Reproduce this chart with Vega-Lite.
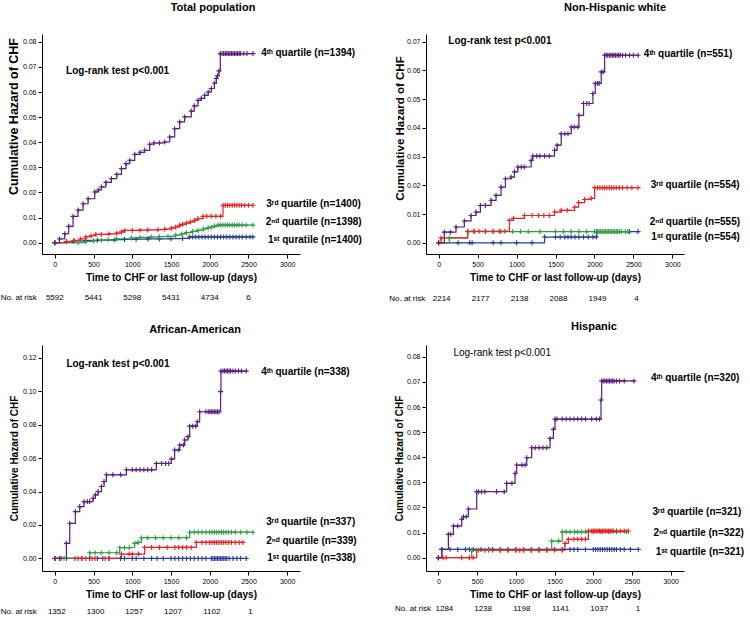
{
"$schema": "https://vega.github.io/schema/vega-lite/v6.json",
"padding": {"left": 0, "top": 2, "right": 5, "bottom": 0},
"bounds": "flush",
"columns": 2,
"spacing": {"row": 91, "column": 126},
"config": {
  "font": "Liberation Sans",
  "view": {"stroke": null},
  "axis": {"grid": false, "domainColor": "#000", "tickColor": "#000", "labelColor": "#000", "titleColor": "#000", "labelFontSize": 7, "titleFontSize": 10, "titleFontWeight": "bold", "tickSize": 4, "labelPadding": 2, "titlePadding": 5},
  "title": {"fontSize": 11, "fontWeight": "bold", "color": "#000", "anchor": "middle", "frame": "group"},
  "text": {"color": "#000"}
},
"datasets": {
"curves": [
{"p":"A","s":"q1","t":0,"h":0},{"p":"A","s":"q1","t":240,"h":0.0007},{"p":"A","s":"q1","t":400,"h":0.0009},{"p":"A","s":"q1","t":550,"h":0.001},{"p":"A","s":"q1","t":774,"h":0.0012},{"p":"A","s":"q1","t":900,"h":0.0013},{"p":"A","s":"q1","t":1050,"h":0.0014},{"p":"A","s":"q1","t":1203,"h":0.0015},{"p":"A","s":"q1","t":1350,"h":0.0015},{"p":"A","s":"q1","t":1500,"h":0.0016},{"p":"A","s":"q1","t":1650,"h":0.0017},{"p":"A","s":"q1","t":1741,"h":0.0023},{"p":"A","s":"q1","t":1780,"h":0.0023},{"p":"A","s":"q1","t":1820,"h":0.0023},{"p":"A","s":"q1","t":1860,"h":0.0023},{"p":"A","s":"q1","t":1900,"h":0.0023},{"p":"A","s":"q1","t":1940,"h":0.0023},{"p":"A","s":"q1","t":1980,"h":0.0023},{"p":"A","s":"q1","t":2020,"h":0.0023},{"p":"A","s":"q1","t":2060,"h":0.0023},{"p":"A","s":"q1","t":2100,"h":0.0023},{"p":"A","s":"q1","t":2140,"h":0.0023},{"p":"A","s":"q1","t":2180,"h":0.0023},{"p":"A","s":"q1","t":2220,"h":0.0023},{"p":"A","s":"q1","t":2260,"h":0.0023},{"p":"A","s":"q1","t":2300,"h":0.0023},{"p":"A","s":"q1","t":2340,"h":0.0023},{"p":"A","s":"q1","t":2380,"h":0.0023},{"p":"A","s":"q1","t":2420,"h":0.0023},{"p":"A","s":"q1","t":2470,"h":0.0023},{"p":"A","s":"q1","t":2520,"h":0.0023},{"p":"A","s":"q1","t":2557,"h":0.0023},
{"p":"A","s":"q2","t":0,"h":0},{"p":"A","s":"q2","t":300,"h":0},{"p":"A","s":"q2","t":400,"h":0.0005},{"p":"A","s":"q2","t":500,"h":0.0008},{"p":"A","s":"q2","t":600,"h":0.001},{"p":"A","s":"q2","t":688,"h":0.0012},{"p":"A","s":"q2","t":800,"h":0.0015},{"p":"A","s":"q2","t":989,"h":0.0019},{"p":"A","s":"q2","t":1100,"h":0.0021},{"p":"A","s":"q2","t":1246,"h":0.0023},{"p":"A","s":"q2","t":1350,"h":0.0024},{"p":"A","s":"q2","t":1461,"h":0.0025},{"p":"A","s":"q2","t":1560,"h":0.003},{"p":"A","s":"q2","t":1640,"h":0.0035},{"p":"A","s":"q2","t":1700,"h":0.004},{"p":"A","s":"q2","t":1780,"h":0.0045},{"p":"A","s":"q2","t":1848,"h":0.0049},{"p":"A","s":"q2","t":1920,"h":0.0055},{"p":"A","s":"q2","t":1980,"h":0.006},{"p":"A","s":"q2","t":2020,"h":0.0062},{"p":"A","s":"q2","t":2060,"h":0.0066},{"p":"A","s":"q2","t":2106,"h":0.007},{"p":"A","s":"q2","t":2140,"h":0.007},{"p":"A","s":"q2","t":2170,"h":0.007},{"p":"A","s":"q2","t":2200,"h":0.007},{"p":"A","s":"q2","t":2230,"h":0.007},{"p":"A","s":"q2","t":2260,"h":0.007},{"p":"A","s":"q2","t":2290,"h":0.007},{"p":"A","s":"q2","t":2320,"h":0.007},{"p":"A","s":"q2","t":2350,"h":0.007},{"p":"A","s":"q2","t":2380,"h":0.007},{"p":"A","s":"q2","t":2420,"h":0.007},{"p":"A","s":"q2","t":2470,"h":0.007},{"p":"A","s":"q2","t":2557,"h":0.007},
{"p":"A","s":"q3","t":0,"h":0},{"p":"A","s":"q3","t":150,"h":0.0005},{"p":"A","s":"q3","t":250,"h":0.0009},{"p":"A","s":"q3","t":330,"h":0.0015},{"p":"A","s":"q3","t":400,"h":0.0023},{"p":"A","s":"q3","t":470,"h":0.0028},{"p":"A","s":"q3","t":530,"h":0.0033},{"p":"A","s":"q3","t":600,"h":0.0033},{"p":"A","s":"q3","t":700,"h":0.0035},{"p":"A","s":"q3","t":800,"h":0.0038},{"p":"A","s":"q3","t":860,"h":0.0043},{"p":"A","s":"q3","t":903,"h":0.0049},{"p":"A","s":"q3","t":1000,"h":0.0049},{"p":"A","s":"q3","t":1100,"h":0.005},{"p":"A","s":"q3","t":1200,"h":0.0051},{"p":"A","s":"q3","t":1332,"h":0.0052},{"p":"A","s":"q3","t":1420,"h":0.0054},{"p":"A","s":"q3","t":1504,"h":0.0058},{"p":"A","s":"q3","t":1560,"h":0.0063},{"p":"A","s":"q3","t":1612,"h":0.0069},{"p":"A","s":"q3","t":1650,"h":0.0073},{"p":"A","s":"q3","t":1698,"h":0.0078},{"p":"A","s":"q3","t":1750,"h":0.0083},{"p":"A","s":"q3","t":1805,"h":0.0089},{"p":"A","s":"q3","t":1848,"h":0.0096},{"p":"A","s":"q3","t":1913,"h":0.0105},{"p":"A","s":"q3","t":1960,"h":0.0105},{"p":"A","s":"q3","t":2020,"h":0.0105},{"p":"A","s":"q3","t":2080,"h":0.0105},{"p":"A","s":"q3","t":2140,"h":0.0105},{"p":"A","s":"q3","t":2171,"h":0.0149},{"p":"A","s":"q3","t":2200,"h":0.0149},{"p":"A","s":"q3","t":2230,"h":0.0149},{"p":"A","s":"q3","t":2260,"h":0.0149},{"p":"A","s":"q3","t":2290,"h":0.0149},{"p":"A","s":"q3","t":2320,"h":0.0149},{"p":"A","s":"q3","t":2350,"h":0.0149},{"p":"A","s":"q3","t":2380,"h":0.0149},{"p":"A","s":"q3","t":2410,"h":0.0149},{"p":"A","s":"q3","t":2450,"h":0.0149},{"p":"A","s":"q3","t":2500,"h":0.0149},{"p":"A","s":"q3","t":2557,"h":0.0149},
{"p":"A","s":"q4","t":0,"h":0},{"p":"A","s":"q4","t":60,"h":0.0015},{"p":"A","s":"q4","t":129,"h":0.0036},{"p":"A","s":"q4","t":180,"h":0.0065},{"p":"A","s":"q4","t":236,"h":0.0105},{"p":"A","s":"q4","t":300,"h":0.013},{"p":"A","s":"q4","t":365,"h":0.0155},{"p":"A","s":"q4","t":430,"h":0.0175},{"p":"A","s":"q4","t":516,"h":0.0202},{"p":"A","s":"q4","t":560,"h":0.021},{"p":"A","s":"q4","t":602,"h":0.0222},{"p":"A","s":"q4","t":660,"h":0.024},{"p":"A","s":"q4","t":731,"h":0.0255},{"p":"A","s":"q4","t":800,"h":0.0272},{"p":"A","s":"q4","t":860,"h":0.0295},{"p":"A","s":"q4","t":920,"h":0.0315},{"p":"A","s":"q4","t":967,"h":0.0328},{"p":"A","s":"q4","t":1032,"h":0.0352},{"p":"A","s":"q4","t":1100,"h":0.036},{"p":"A","s":"q4","t":1160,"h":0.0368},{"p":"A","s":"q4","t":1225,"h":0.0392},{"p":"A","s":"q4","t":1280,"h":0.0397},{"p":"A","s":"q4","t":1350,"h":0.0397},{"p":"A","s":"q4","t":1418,"h":0.0401},{"p":"A","s":"q4","t":1483,"h":0.0421},{"p":"A","s":"q4","t":1547,"h":0.0454},{"p":"A","s":"q4","t":1612,"h":0.0481},{"p":"A","s":"q4","t":1676,"h":0.0501},{"p":"A","s":"q4","t":1762,"h":0.0524},{"p":"A","s":"q4","t":1800,"h":0.0545},{"p":"A","s":"q4","t":1848,"h":0.0567},{"p":"A","s":"q4","t":1890,"h":0.0575},{"p":"A","s":"q4","t":1934,"h":0.0587},{"p":"A","s":"q4","t":1980,"h":0.06},{"p":"A","s":"q4","t":2020,"h":0.0614},{"p":"A","s":"q4","t":2060,"h":0.0635},{"p":"A","s":"q4","t":2085,"h":0.0654},{"p":"A","s":"q4","t":2100,"h":0.0665},{"p":"A","s":"q4","t":2119,"h":0.0684},{"p":"A","s":"q4","t":2136,"h":0.0753},{"p":"A","s":"q4","t":2160,"h":0.0753},{"p":"A","s":"q4","t":2180,"h":0.0753},{"p":"A","s":"q4","t":2200,"h":0.0753},{"p":"A","s":"q4","t":2220,"h":0.0753},{"p":"A","s":"q4","t":2240,"h":0.0753},{"p":"A","s":"q4","t":2260,"h":0.0753},{"p":"A","s":"q4","t":2280,"h":0.0753},{"p":"A","s":"q4","t":2300,"h":0.0753},{"p":"A","s":"q4","t":2320,"h":0.0753},{"p":"A","s":"q4","t":2340,"h":0.0753},{"p":"A","s":"q4","t":2360,"h":0.0753},{"p":"A","s":"q4","t":2380,"h":0.0753},{"p":"A","s":"q4","t":2400,"h":0.0753},{"p":"A","s":"q4","t":2440,"h":0.0753},{"p":"A","s":"q4","t":2480,"h":0.0753},{"p":"A","s":"q4","t":2557,"h":0.0753},

{"p":"B","s":"q1","t":0,"h":0},{"p":"B","s":"q1","t":250,"h":0},{"p":"B","s":"q1","t":400,"h":0},{"p":"B","s":"q1","t":430,"h":0},{"p":"B","s":"q1","t":700,"h":0},{"p":"B","s":"q1","t":800,"h":0},{"p":"B","s":"q1","t":1000,"h":0},{"p":"B","s":"q1","t":1200,"h":0},{"p":"B","s":"q1","t":1359,"h":0.002},{"p":"B","s":"q1","t":1500,"h":0.002},{"p":"B","s":"q1","t":1560,"h":0.002},{"p":"B","s":"q1","t":1620,"h":0.002},{"p":"B","s":"q1","t":1660,"h":0.002},{"p":"B","s":"q1","t":1700,"h":0.002},{"p":"B","s":"q1","t":1750,"h":0.002},{"p":"B","s":"q1","t":1800,"h":0.002},{"p":"B","s":"q1","t":1860,"h":0.002},{"p":"B","s":"q1","t":1920,"h":0.002},{"p":"B","s":"q1","t":1980,"h":0.002},{"p":"B","s":"q1","t":2023,"h":0.002},{"p":"B","s":"q1","t":2030,"h":0.0039},{"p":"B","s":"q1","t":2450,"h":0.0039},{"p":"B","s":"q1","t":2559,"h":0.0039},
{"p":"B","s":"q2","t":0,"h":0},{"p":"B","s":"q2","t":137,"h":0.0017},{"p":"B","s":"q2","t":373,"h":0.0039},{"p":"B","s":"q2","t":460,"h":0.0039},{"p":"B","s":"q2","t":600,"h":0.0039},{"p":"B","s":"q2","t":700,"h":0.0039},{"p":"B","s":"q2","t":800,"h":0.0039},{"p":"B","s":"q2","t":950,"h":0.0039},{"p":"B","s":"q2","t":1050,"h":0.0039},{"p":"B","s":"q2","t":1150,"h":0.0039},{"p":"B","s":"q2","t":1300,"h":0.0039},{"p":"B","s":"q2","t":1500,"h":0.0039},{"p":"B","s":"q2","t":1600,"h":0.0039},{"p":"B","s":"q2","t":1700,"h":0.0039},{"p":"B","s":"q2","t":1800,"h":0.0039},{"p":"B","s":"q2","t":1900,"h":0.0039},{"p":"B","s":"q2","t":2000,"h":0.0039},{"p":"B","s":"q2","t":2040,"h":0.0039},{"p":"B","s":"q2","t":2060,"h":0.0039},{"p":"B","s":"q2","t":2080,"h":0.0039},{"p":"B","s":"q2","t":2100,"h":0.0039},{"p":"B","s":"q2","t":2120,"h":0.0039},{"p":"B","s":"q2","t":2140,"h":0.0039},{"p":"B","s":"q2","t":2160,"h":0.0039},{"p":"B","s":"q2","t":2180,"h":0.0039},{"p":"B","s":"q2","t":2200,"h":0.0039},{"p":"B","s":"q2","t":2220,"h":0.0039},{"p":"B","s":"q2","t":2240,"h":0.0039},{"p":"B","s":"q2","t":2260,"h":0.0039},{"p":"B","s":"q2","t":2280,"h":0.0039},{"p":"B","s":"q2","t":2300,"h":0.0039},{"p":"B","s":"q2","t":2320,"h":0.0039},{"p":"B","s":"q2","t":2350,"h":0.0039},{"p":"B","s":"q2","t":2400,"h":0.0039},{"p":"B","s":"q2","t":2430,"h":0.0039},
{"p":"B","s":"q3","t":0,"h":0},{"p":"B","s":"q3","t":30,"h":0.0017},{"p":"B","s":"q3","t":373,"h":0.004},{"p":"B","s":"q3","t":450,"h":0.004},{"p":"B","s":"q3","t":520,"h":0.004},{"p":"B","s":"q3","t":600,"h":0.004},{"p":"B","s":"q3","t":700,"h":0.004},{"p":"B","s":"q3","t":780,"h":0.004},{"p":"B","s":"q3","t":850,"h":0.004},{"p":"B","s":"q3","t":909,"h":0.0078},{"p":"B","s":"q3","t":960,"h":0.0085},{"p":"B","s":"q3","t":1101,"h":0.0095},{"p":"B","s":"q3","t":1200,"h":0.0095},{"p":"B","s":"q3","t":1280,"h":0.0095},{"p":"B","s":"q3","t":1350,"h":0.0095},{"p":"B","s":"q3","t":1420,"h":0.0095},{"p":"B","s":"q3","t":1487,"h":0.0107},{"p":"B","s":"q3","t":1573,"h":0.0113},{"p":"B","s":"q3","t":1650,"h":0.0113},{"p":"B","s":"q3","t":1744,"h":0.0124},{"p":"B","s":"q3","t":1796,"h":0.014},{"p":"B","s":"q3","t":1873,"h":0.0151},{"p":"B","s":"q3","t":1959,"h":0.0155},{"p":"B","s":"q3","t":2002,"h":0.0192},{"p":"B","s":"q3","t":2040,"h":0.0192},{"p":"B","s":"q3","t":2070,"h":0.0192},{"p":"B","s":"q3","t":2100,"h":0.0192},{"p":"B","s":"q3","t":2130,"h":0.0192},{"p":"B","s":"q3","t":2160,"h":0.0192},{"p":"B","s":"q3","t":2190,"h":0.0192},{"p":"B","s":"q3","t":2220,"h":0.0192},{"p":"B","s":"q3","t":2250,"h":0.0192},{"p":"B","s":"q3","t":2280,"h":0.0192},{"p":"B","s":"q3","t":2320,"h":0.0192},{"p":"B","s":"q3","t":2360,"h":0.0192},{"p":"B","s":"q3","t":2420,"h":0.0192},{"p":"B","s":"q3","t":2480,"h":0.0192},{"p":"B","s":"q3","t":2559,"h":0.0192},
{"p":"B","s":"q4","t":0,"h":0},{"p":"B","s":"q4","t":73,"h":0.0037},{"p":"B","s":"q4","t":150,"h":0.0037},{"p":"B","s":"q4","t":223,"h":0.0055},{"p":"B","s":"q4","t":330,"h":0.0076},{"p":"B","s":"q4","t":416,"h":0.0095},{"p":"B","s":"q4","t":480,"h":0.0107},{"p":"B","s":"q4","t":536,"h":0.013},{"p":"B","s":"q4","t":600,"h":0.013},{"p":"B","s":"q4","t":673,"h":0.0148},{"p":"B","s":"q4","t":737,"h":0.0165},{"p":"B","s":"q4","t":801,"h":0.0194},{"p":"B","s":"q4","t":857,"h":0.0223},{"p":"B","s":"q4","t":930,"h":0.0229},{"p":"B","s":"q4","t":973,"h":0.0247},{"p":"B","s":"q4","t":1016,"h":0.0264},{"p":"B","s":"q4","t":1060,"h":0.0264},{"p":"B","s":"q4","t":1100,"h":0.0264},{"p":"B","s":"q4","t":1187,"h":0.0287},{"p":"B","s":"q4","t":1209,"h":0.0302},{"p":"B","s":"q4","t":1260,"h":0.0302},{"p":"B","s":"q4","t":1300,"h":0.0302},{"p":"B","s":"q4","t":1360,"h":0.0302},{"p":"B","s":"q4","t":1420,"h":0.0302},{"p":"B","s":"q4","t":1487,"h":0.0322},{"p":"B","s":"q4","t":1521,"h":0.034},{"p":"B","s":"q4","t":1573,"h":0.038},{"p":"B","s":"q4","t":1620,"h":0.038},{"p":"B","s":"q4","t":1660,"h":0.038},{"p":"B","s":"q4","t":1702,"h":0.0403},{"p":"B","s":"q4","t":1740,"h":0.0403},{"p":"B","s":"q4","t":1787,"h":0.0403},{"p":"B","s":"q4","t":1800,"h":0.0444},{"p":"B","s":"q4","t":1860,"h":0.0485},{"p":"B","s":"q4","t":1900,"h":0.0485},{"p":"B","s":"q4","t":1930,"h":0.0485},{"p":"B","s":"q4","t":1980,"h":0.052},{"p":"B","s":"q4","t":2010,"h":0.0555},{"p":"B","s":"q4","t":2040,"h":0.0555},{"p":"B","s":"q4","t":2060,"h":0.0555},{"p":"B","s":"q4","t":2087,"h":0.0595},{"p":"B","s":"q4","t":2110,"h":0.0595},{"p":"B","s":"q4","t":2130,"h":0.0653},{"p":"B","s":"q4","t":2150,"h":0.0653},{"p":"B","s":"q4","t":2170,"h":0.0653},{"p":"B","s":"q4","t":2190,"h":0.0653},{"p":"B","s":"q4","t":2210,"h":0.0653},{"p":"B","s":"q4","t":2230,"h":0.0653},{"p":"B","s":"q4","t":2250,"h":0.0653},{"p":"B","s":"q4","t":2270,"h":0.0653},{"p":"B","s":"q4","t":2290,"h":0.0653},{"p":"B","s":"q4","t":2310,"h":0.0653},{"p":"B","s":"q4","t":2330,"h":0.0653},{"p":"B","s":"q4","t":2360,"h":0.0653},{"p":"B","s":"q4","t":2400,"h":0.0653},{"p":"B","s":"q4","t":2450,"h":0.0653},{"p":"B","s":"q4","t":2500,"h":0.0653},{"p":"B","s":"q4","t":2559,"h":0.0653},

{"p":"C","s":"q1","t":0,"h":0},{"p":"C","s":"q1","t":150,"h":0},{"p":"C","s":"q1","t":350,"h":0},{"p":"C","s":"q1","t":450,"h":0},{"p":"C","s":"q1","t":550,"h":0},{"p":"C","s":"q1","t":620,"h":0},{"p":"C","s":"q1","t":700,"h":0},{"p":"C","s":"q1","t":850,"h":0},{"p":"C","s":"q1","t":900,"h":0},{"p":"C","s":"q1","t":1000,"h":0},{"p":"C","s":"q1","t":1050,"h":0},{"p":"C","s":"q1","t":1150,"h":0},{"p":"C","s":"q1","t":1250,"h":0},{"p":"C","s":"q1","t":1320,"h":0},{"p":"C","s":"q1","t":1400,"h":0},{"p":"C","s":"q1","t":1500,"h":0},{"p":"C","s":"q1","t":1550,"h":0},{"p":"C","s":"q1","t":1600,"h":0},{"p":"C","s":"q1","t":1650,"h":0},{"p":"C","s":"q1","t":1700,"h":0},{"p":"C","s":"q1","t":1750,"h":0},{"p":"C","s":"q1","t":1800,"h":0},{"p":"C","s":"q1","t":1850,"h":0},{"p":"C","s":"q1","t":1900,"h":0},{"p":"C","s":"q1","t":1950,"h":0},{"p":"C","s":"q1","t":2020,"h":0},{"p":"C","s":"q1","t":2040,"h":0},{"p":"C","s":"q1","t":2060,"h":0},{"p":"C","s":"q1","t":2080,"h":0},{"p":"C","s":"q1","t":2100,"h":0},{"p":"C","s":"q1","t":2120,"h":0},{"p":"C","s":"q1","t":2140,"h":0},{"p":"C","s":"q1","t":2160,"h":0},{"p":"C","s":"q1","t":2180,"h":0},{"p":"C","s":"q1","t":2200,"h":0},{"p":"C","s":"q1","t":2220,"h":0},{"p":"C","s":"q1","t":2250,"h":0},{"p":"C","s":"q1","t":2300,"h":0},{"p":"C","s":"q1","t":2350,"h":0},{"p":"C","s":"q1","t":2400,"h":0},{"p":"C","s":"q1","t":2471,"h":0},
{"p":"C","s":"q3","t":0,"h":0},{"p":"C","s":"q3","t":60,"h":0},{"p":"C","s":"q3","t":260,"h":0},{"p":"C","s":"q3","t":300,"h":0},{"p":"C","s":"q3","t":350,"h":0},{"p":"C","s":"q3","t":400,"h":0},{"p":"C","s":"q3","t":480,"h":0},{"p":"C","s":"q3","t":520,"h":0},{"p":"C","s":"q3","t":650,"h":0},{"p":"C","s":"q3","t":700,"h":0},{"p":"C","s":"q3","t":860,"h":0.0026},{"p":"C","s":"q3","t":960,"h":0.0026},{"p":"C","s":"q3","t":1000,"h":0.0026},{"p":"C","s":"q3","t":1080,"h":0.0026},{"p":"C","s":"q3","t":1160,"h":0.0066},{"p":"C","s":"q3","t":1250,"h":0.0066},{"p":"C","s":"q3","t":1350,"h":0.0066},{"p":"C","s":"q3","t":1450,"h":0.0066},{"p":"C","s":"q3","t":1550,"h":0.0066},{"p":"C","s":"q3","t":1600,"h":0.0066},{"p":"C","s":"q3","t":1650,"h":0.0066},{"p":"C","s":"q3","t":1700,"h":0.0066},{"p":"C","s":"q3","t":1760,"h":0.0066},{"p":"C","s":"q3","t":1827,"h":0.0096},{"p":"C","s":"q3","t":1900,"h":0.0096},{"p":"C","s":"q3","t":1950,"h":0.0096},{"p":"C","s":"q3","t":2000,"h":0.0096},{"p":"C","s":"q3","t":2030,"h":0.0096},{"p":"C","s":"q3","t":2060,"h":0.0096},{"p":"C","s":"q3","t":2090,"h":0.0096},{"p":"C","s":"q3","t":2120,"h":0.0096},{"p":"C","s":"q3","t":2150,"h":0.0096},{"p":"C","s":"q3","t":2180,"h":0.0096},{"p":"C","s":"q3","t":2210,"h":0.0096},{"p":"C","s":"q3","t":2240,"h":0.0096},{"p":"C","s":"q3","t":2280,"h":0.0096},{"p":"C","s":"q3","t":2330,"h":0.0096},{"p":"C","s":"q3","t":2380,"h":0.0096},{"p":"C","s":"q3","t":2428,"h":0.0096},
{"p":"C","s":"q2","t":0,"h":0},{"p":"C","s":"q2","t":120,"h":0},{"p":"C","s":"q2","t":451,"h":0.0034},{"p":"C","s":"q2","t":520,"h":0.0034},{"p":"C","s":"q2","t":600,"h":0.0034},{"p":"C","s":"q2","t":700,"h":0.0034},{"p":"C","s":"q2","t":800,"h":0.0034},{"p":"C","s":"q2","t":838,"h":0.0064},{"p":"C","s":"q2","t":900,"h":0.0064},{"p":"C","s":"q2","t":960,"h":0.0064},{"p":"C","s":"q2","t":1031,"h":0.009},{"p":"C","s":"q2","t":1075,"h":0.0096},{"p":"C","s":"q2","t":1117,"h":0.0124},{"p":"C","s":"q2","t":1200,"h":0.0124},{"p":"C","s":"q2","t":1300,"h":0.0124},{"p":"C","s":"q2","t":1400,"h":0.0124},{"p":"C","s":"q2","t":1500,"h":0.0124},{"p":"C","s":"q2","t":1600,"h":0.0124},{"p":"C","s":"q2","t":1700,"h":0.0124},{"p":"C","s":"q2","t":1741,"h":0.0157},{"p":"C","s":"q2","t":1800,"h":0.0157},{"p":"C","s":"q2","t":1850,"h":0.0157},{"p":"C","s":"q2","t":1900,"h":0.0157},{"p":"C","s":"q2","t":1950,"h":0.0157},{"p":"C","s":"q2","t":2000,"h":0.0157},{"p":"C","s":"q2","t":2030,"h":0.0157},{"p":"C","s":"q2","t":2060,"h":0.0157},{"p":"C","s":"q2","t":2090,"h":0.0157},{"p":"C","s":"q2","t":2120,"h":0.0157},{"p":"C","s":"q2","t":2150,"h":0.0157},{"p":"C","s":"q2","t":2180,"h":0.0157},{"p":"C","s":"q2","t":2210,"h":0.0157},{"p":"C","s":"q2","t":2240,"h":0.0157},{"p":"C","s":"q2","t":2280,"h":0.0157},{"p":"C","s":"q2","t":2330,"h":0.0157},{"p":"C","s":"q2","t":2400,"h":0.0157},{"p":"C","s":"q2","t":2480,"h":0.0157},{"p":"C","s":"q2","t":2557,"h":0.0157},
{"p":"C","s":"q4","t":0,"h":0},{"p":"C","s":"q4","t":80,"h":0},{"p":"C","s":"q4","t":150,"h":0.009},{"p":"C","s":"q4","t":193,"h":0.021},{"p":"C","s":"q4","t":266,"h":0.028},{"p":"C","s":"q4","t":322,"h":0.031},{"p":"C","s":"q4","t":378,"h":0.034},{"p":"C","s":"q4","t":420,"h":0.034},{"p":"C","s":"q4","t":450,"h":0.034},{"p":"C","s":"q4","t":494,"h":0.036},{"p":"C","s":"q4","t":524,"h":0.038},{"p":"C","s":"q4","t":559,"h":0.04},{"p":"C","s":"q4","t":602,"h":0.043},{"p":"C","s":"q4","t":636,"h":0.046},{"p":"C","s":"q4","t":666,"h":0.05},{"p":"C","s":"q4","t":750,"h":0.05},{"p":"C","s":"q4","t":850,"h":0.05},{"p":"C","s":"q4","t":924,"h":0.053},{"p":"C","s":"q4","t":1000,"h":0.053},{"p":"C","s":"q4","t":1050,"h":0.053},{"p":"C","s":"q4","t":1100,"h":0.053},{"p":"C","s":"q4","t":1150,"h":0.053},{"p":"C","s":"q4","t":1200,"h":0.053},{"p":"C","s":"q4","t":1250,"h":0.053},{"p":"C","s":"q4","t":1311,"h":0.0568},{"p":"C","s":"q4","t":1380,"h":0.0568},{"p":"C","s":"q4","t":1430,"h":0.0568},{"p":"C","s":"q4","t":1470,"h":0.0568},{"p":"C","s":"q4","t":1504,"h":0.0594},{"p":"C","s":"q4","t":1547,"h":0.0648},{"p":"C","s":"q4","t":1600,"h":0.0648},{"p":"C","s":"q4","t":1612,"h":0.0678},{"p":"C","s":"q4","t":1660,"h":0.0678},{"p":"C","s":"q4","t":1676,"h":0.0708},{"p":"C","s":"q4","t":1719,"h":0.0728},{"p":"C","s":"q4","t":1741,"h":0.0791},{"p":"C","s":"q4","t":1780,"h":0.0791},{"p":"C","s":"q4","t":1820,"h":0.0791},{"p":"C","s":"q4","t":1840,"h":0.0817},{"p":"C","s":"q4","t":1870,"h":0.0877},{"p":"C","s":"q4","t":1950,"h":0.0877},{"p":"C","s":"q4","t":1980,"h":0.0877},{"p":"C","s":"q4","t":2000,"h":0.0877},{"p":"C","s":"q4","t":2020,"h":0.0877},{"p":"C","s":"q4","t":2040,"h":0.0877},{"p":"C","s":"q4","t":2060,"h":0.0877},{"p":"C","s":"q4","t":2080,"h":0.0877},{"p":"C","s":"q4","t":2100,"h":0.0877},{"p":"C","s":"q4","t":2120,"h":0.0877},{"p":"C","s":"q4","t":2140,"h":0.0997},{"p":"C","s":"q4","t":2145,"h":0.112},{"p":"C","s":"q4","t":2170,"h":0.112},{"p":"C","s":"q4","t":2190,"h":0.112},{"p":"C","s":"q4","t":2210,"h":0.112},{"p":"C","s":"q4","t":2230,"h":0.112},{"p":"C","s":"q4","t":2250,"h":0.112},{"p":"C","s":"q4","t":2270,"h":0.112},{"p":"C","s":"q4","t":2300,"h":0.112},{"p":"C","s":"q4","t":2330,"h":0.112},{"p":"C","s":"q4","t":2370,"h":0.112},{"p":"C","s":"q4","t":2410,"h":0.112},{"p":"C","s":"q4","t":2471,"h":0.112},

{"p":"D","s":"q1","t":0,"h":0},{"p":"D","s":"q1","t":43,"h":0.0033},{"p":"D","s":"q1","t":150,"h":0.0033},{"p":"D","s":"q1","t":250,"h":0.0033},{"p":"D","s":"q1","t":350,"h":0.0033},{"p":"D","s":"q1","t":400,"h":0.0033},{"p":"D","s":"q1","t":450,"h":0.0033},{"p":"D","s":"q1","t":550,"h":0.0033},{"p":"D","s":"q1","t":650,"h":0.0033},{"p":"D","s":"q1","t":700,"h":0.0033},{"p":"D","s":"q1","t":800,"h":0.0033},{"p":"D","s":"q1","t":900,"h":0.0033},{"p":"D","s":"q1","t":1000,"h":0.0033},{"p":"D","s":"q1","t":1100,"h":0.0033},{"p":"D","s":"q1","t":1200,"h":0.0033},{"p":"D","s":"q1","t":1300,"h":0.0033},{"p":"D","s":"q1","t":1400,"h":0.0033},{"p":"D","s":"q1","t":1500,"h":0.0033},{"p":"D","s":"q1","t":1600,"h":0.0033},{"p":"D","s":"q1","t":1700,"h":0.0033},{"p":"D","s":"q1","t":1750,"h":0.0033},{"p":"D","s":"q1","t":1800,"h":0.0033},{"p":"D","s":"q1","t":1900,"h":0.0033},{"p":"D","s":"q1","t":2000,"h":0.0033},{"p":"D","s":"q1","t":2030,"h":0.0033},{"p":"D","s":"q1","t":2060,"h":0.0033},{"p":"D","s":"q1","t":2090,"h":0.0033},{"p":"D","s":"q1","t":2120,"h":0.0033},{"p":"D","s":"q1","t":2150,"h":0.0033},{"p":"D","s":"q1","t":2180,"h":0.0033},{"p":"D","s":"q1","t":2210,"h":0.0033},{"p":"D","s":"q1","t":2240,"h":0.0033},{"p":"D","s":"q1","t":2270,"h":0.0033},{"p":"D","s":"q1","t":2300,"h":0.0033},{"p":"D","s":"q1","t":2350,"h":0.0033},{"p":"D","s":"q1","t":2400,"h":0.0033},{"p":"D","s":"q1","t":2480,"h":0.0033},{"p":"D","s":"q1","t":2582,"h":0.0033},
{"p":"D","s":"q2","t":0,"h":0},{"p":"D","s":"q2","t":430,"h":0.003},{"p":"D","s":"q2","t":520,"h":0.003},{"p":"D","s":"q2","t":650,"h":0.003},{"p":"D","s":"q2","t":800,"h":0.003},{"p":"D","s":"q2","t":900,"h":0.003},{"p":"D","s":"q2","t":1000,"h":0.003},{"p":"D","s":"q2","t":1100,"h":0.003},{"p":"D","s":"q2","t":1200,"h":0.003},{"p":"D","s":"q2","t":1300,"h":0.003},{"p":"D","s":"q2","t":1400,"h":0.003},{"p":"D","s":"q2","t":1463,"h":0.0066},{"p":"D","s":"q2","t":1550,"h":0.0066},{"p":"D","s":"q2","t":1600,"h":0.0103},{"p":"D","s":"q2","t":1650,"h":0.0103},{"p":"D","s":"q2","t":1700,"h":0.0103},{"p":"D","s":"q2","t":1760,"h":0.0103},{"p":"D","s":"q2","t":1800,"h":0.0103},{"p":"D","s":"q2","t":1850,"h":0.0103},{"p":"D","s":"q2","t":1900,"h":0.0103},{"p":"D","s":"q2","t":2000,"h":0.0103},{"p":"D","s":"q2","t":2100,"h":0.0103},{"p":"D","s":"q2","t":2200,"h":0.0103},{"p":"D","s":"q2","t":2300,"h":0.0103},{"p":"D","s":"q2","t":2430,"h":0.0103},
{"p":"D","s":"q3","t":0,"h":0},{"p":"D","s":"q3","t":60,"h":0},{"p":"D","s":"q3","t":100,"h":0},{"p":"D","s":"q3","t":300,"h":0},{"p":"D","s":"q3","t":400,"h":0},{"p":"D","s":"q3","t":450,"h":0},{"p":"D","s":"q3","t":495,"h":0.003},{"p":"D","s":"q3","t":600,"h":0.003},{"p":"D","s":"q3","t":700,"h":0.003},{"p":"D","s":"q3","t":800,"h":0.003},{"p":"D","s":"q3","t":900,"h":0.003},{"p":"D","s":"q3","t":1000,"h":0.003},{"p":"D","s":"q3","t":1050,"h":0.003},{"p":"D","s":"q3","t":1100,"h":0.003},{"p":"D","s":"q3","t":1200,"h":0.003},{"p":"D","s":"q3","t":1300,"h":0.003},{"p":"D","s":"q3","t":1400,"h":0.003},{"p":"D","s":"q3","t":1500,"h":0.003},{"p":"D","s":"q3","t":1600,"h":0.003},{"p":"D","s":"q3","t":1635,"h":0.0057},{"p":"D","s":"q3","t":1678,"h":0.0073},{"p":"D","s":"q3","t":1750,"h":0.0073},{"p":"D","s":"q3","t":1800,"h":0.0073},{"p":"D","s":"q3","t":1850,"h":0.0073},{"p":"D","s":"q3","t":1900,"h":0.0073},{"p":"D","s":"q3","t":1937,"h":0.0106},{"p":"D","s":"q3","t":1980,"h":0.0106},{"p":"D","s":"q3","t":2000,"h":0.0106},{"p":"D","s":"q3","t":2020,"h":0.0106},{"p":"D","s":"q3","t":2040,"h":0.0106},{"p":"D","s":"q3","t":2060,"h":0.0106},{"p":"D","s":"q3","t":2080,"h":0.0106},{"p":"D","s":"q3","t":2100,"h":0.0106},{"p":"D","s":"q3","t":2120,"h":0.0106},{"p":"D","s":"q3","t":2140,"h":0.0106},{"p":"D","s":"q3","t":2160,"h":0.0106},{"p":"D","s":"q3","t":2180,"h":0.0106},{"p":"D","s":"q3","t":2200,"h":0.0106},{"p":"D","s":"q3","t":2220,"h":0.0106},{"p":"D","s":"q3","t":2240,"h":0.0106},{"p":"D","s":"q3","t":2260,"h":0.0106},{"p":"D","s":"q3","t":2300,"h":0.0106},{"p":"D","s":"q3","t":2350,"h":0.0106},{"p":"D","s":"q3","t":2400,"h":0.0106},{"p":"D","s":"q3","t":2453,"h":0.0106},
{"p":"D","s":"q4","t":0,"h":0},{"p":"D","s":"q4","t":43,"h":0.0033},{"p":"D","s":"q4","t":129,"h":0.0093},{"p":"D","s":"q4","t":160,"h":0.0093},{"p":"D","s":"q4","t":194,"h":0.0126},{"p":"D","s":"q4","t":250,"h":0.0126},{"p":"D","s":"q4","t":301,"h":0.0153},{"p":"D","s":"q4","t":323,"h":0.0163},{"p":"D","s":"q4","t":360,"h":0.0163},{"p":"D","s":"q4","t":387,"h":0.0194},{"p":"D","s":"q4","t":495,"h":0.0263},{"p":"D","s":"q4","t":520,"h":0.0263},{"p":"D","s":"q4","t":560,"h":0.0263},{"p":"D","s":"q4","t":600,"h":0.0263},{"p":"D","s":"q4","t":750,"h":0.0263},{"p":"D","s":"q4","t":850,"h":0.0263},{"p":"D","s":"q4","t":882,"h":0.0296},{"p":"D","s":"q4","t":950,"h":0.0296},{"p":"D","s":"q4","t":990,"h":0.0336},{"p":"D","s":"q4","t":1011,"h":0.0369},{"p":"D","s":"q4","t":1080,"h":0.0369},{"p":"D","s":"q4","t":1120,"h":0.0369},{"p":"D","s":"q4","t":1141,"h":0.0398},{"p":"D","s":"q4","t":1205,"h":0.0438},{"p":"D","s":"q4","t":1250,"h":0.0438},{"p":"D","s":"q4","t":1300,"h":0.0438},{"p":"D","s":"q4","t":1350,"h":0.0438},{"p":"D","s":"q4","t":1400,"h":0.0438},{"p":"D","s":"q4","t":1442,"h":0.0475},{"p":"D","s":"q4","t":1485,"h":0.0511},{"p":"D","s":"q4","t":1506,"h":0.0552},{"p":"D","s":"q4","t":1530,"h":0.0552},{"p":"D","s":"q4","t":1600,"h":0.0552},{"p":"D","s":"q4","t":1650,"h":0.0552},{"p":"D","s":"q4","t":1700,"h":0.0552},{"p":"D","s":"q4","t":1750,"h":0.0552},{"p":"D","s":"q4","t":1800,"h":0.0552},{"p":"D","s":"q4","t":1850,"h":0.0552},{"p":"D","s":"q4","t":1900,"h":0.0552},{"p":"D","s":"q4","t":1980,"h":0.0552},{"p":"D","s":"q4","t":2040,"h":0.0552},{"p":"D","s":"q4","t":2080,"h":0.0552},{"p":"D","s":"q4","t":2100,"h":0.0628},{"p":"D","s":"q4","t":2109,"h":0.0704},{"p":"D","s":"q4","t":2130,"h":0.0704},{"p":"D","s":"q4","t":2150,"h":0.0704},{"p":"D","s":"q4","t":2170,"h":0.0704},{"p":"D","s":"q4","t":2190,"h":0.0704},{"p":"D","s":"q4","t":2210,"h":0.0704},{"p":"D","s":"q4","t":2230,"h":0.0704},{"p":"D","s":"q4","t":2250,"h":0.0704},{"p":"D","s":"q4","t":2270,"h":0.0704},{"p":"D","s":"q4","t":2300,"h":0.0704},{"p":"D","s":"q4","t":2340,"h":0.0704},{"p":"D","s":"q4","t":2400,"h":0.0704},{"p":"D","s":"q4","t":2526,"h":0.0704}
],
"labels": [
{"p":"A","t":2665,"h":0.0754,"txt":"4ᵗʰ  quartile (n=1394)"},{"p":"A","t":2730,"h":0.0154,"txt":"3ʳᵈ quartile (n=1400)"},{"p":"A","t":2722,"h":0.0084,"txt":"2ⁿᵈ  quartile (n=1398)"},{"p":"A","t":2751,"h":0.0011,"txt":"1ˢᵗ quratile (n=1400)"},
{"p":"B","t":2634,"h":0.0656,"txt":"4ᵗʰ quartile (n=551)"},{"p":"B","t":2721,"h":0.0201,"txt":"3ʳᵈ quartile (n=554)"},{"p":"B","t":2708,"h":0.0073,"txt":"2ⁿᵈ  quartile (n=555)"},{"p":"B","t":2730,"h":0.0019,"txt":"1ˢᵗ quratile (n=554)"},
{"p":"C","t":2665,"h":0.1116,"txt":"4ᵗʰ  quartile (n=338)"},{"p":"C","t":2730,"h":0.0216,"txt":"3ʳᵈ quartile (n=337)"},{"p":"C","t":2730,"h":0.0107,"txt":"2ⁿᵈ  quartile (n=339)"},{"p":"C","t":2743,"h":0.0001,"txt":"1ˢᵗ quartile (n=338)"},
{"p":"D","t":2746,"h":0.0714,"txt":"4ᵗʰ quartile (n=320)"},{"p":"D","t":2764,"h":0.0183,"txt":"3ʳᵈ quartile (n=321)"},{"p":"D","t":2777,"h":0.0097,"txt":"2ⁿᵈ quartile (n=322)"},{"p":"D","t":2807,"h":0.0024,"txt":"1ˢᵗ quartile (n=321)"}
],
"risk": [
{"p":"A","t":0,"n":5592},{"p":"A","t":500,"n":5441},{"p":"A","t":1000,"n":5298},{"p":"A","t":1500,"n":5431},{"p":"A","t":2000,"n":4734},{"p":"A","t":2500,"n":6},
{"p":"B","t":0,"n":2214},{"p":"B","t":500,"n":2177},{"p":"B","t":1000,"n":2138},{"p":"B","t":1500,"n":2088},{"p":"B","t":2000,"n":1949},{"p":"B","t":2500,"n":4},
{"p":"C","t":0,"n":1352},{"p":"C","t":500,"n":1300},{"p":"C","t":1000,"n":1257},{"p":"C","t":1500,"n":1207},{"p":"C","t":2000,"n":1102},{"p":"C","t":2500,"n":1},
{"p":"D","t":0,"n":1284},{"p":"D","t":500,"n":1238},{"p":"D","t":1000,"n":1198},{"p":"D","t":1500,"n":1141},{"p":"D","t":2000,"n":1037},{"p":"D","t":2500,"n":1}
]
},
"concat": [
{
 "width": 258, "height": 220,
 "title": {"text": "Total population", "dx": 42, "offset": 21},
 "encoding": {
  "x": {"type": "quantitative", "scale": {"domain": [-165, 3165], "nice": false, "zero": false}, "axis": {"values": [0,500,1000,1500,2000,2500,3000], "format": "d", "title": "Time to CHF or last follow-up (days)"}},
  "y": {"type": "quantitative", "scale": {"domain": [-0.0045, 0.0831], "nice": false, "zero": false}, "axis": {"values": [0,0.01,0.02,0.03,0.04,0.05,0.06,0.07,0.08], "format": ".2f", "title": "Cumulative Hazard of CHF", "titleFontSize": 12.5, "titleY": 82, "titlePadding": 2}}
 },
 "layer": [
  {"data": {"name": "curves"}, "transform": [{"filter": "datum.p == 'A'"}],
   "mark": {"type": "line", "interpolate": "step-after", "strokeWidth": 1.2, "point": {"shape": "M-1,0H1M0,-1V1", "filled": false, "size": 25, "strokeWidth": 1.1, "opacity": 1}},
   "encoding": {"x": {"field": "t"}, "y": {"field": "h"}, "color": {"field": "s", "type": "nominal", "scale": {"domain": ["q4","q3","q2","q1"], "range": ["#5b1f7c","#ee2024","#2e9e44","#283c96"]}, "legend": null}}},
  {"data": {"name": "labels"}, "transform": [{"filter": "datum.p == 'A'"}],
   "mark": {"type": "text", "align": "left", "baseline": "middle", "fontSize": 10, "fontWeight": "bold"}, "encoding": {"x": {"field": "t"}, "y": {"field": "h"}, "text": {"field": "txt"}}},
  {"data": {"name": "risk"}, "transform": [{"filter": "datum.p == 'A'"}],
   "mark": {"type": "text", "baseline": "middle", "fontSize": 8}, "encoding": {"x": {"field": "t"}, "y": {"datum": -0.0222}, "text": {"field": "n"}}},
  {"data": {"values": [{"k": 1}]},
   "mark": {"type": "text", "align": "left", "baseline": "middle", "fontSize": 8}, "encoding": {"x": {"datum": -697}, "y": {"datum": -0.0222}, "text": {"value": "No. at risk"}}},
  {"data": {"values": [{"k": 1}]},
   "mark": {"type": "text", "align": "left", "baseline": "middle", "fontSize": 10, "fontWeight": "bold"}, "encoding": {"x": {"datum": 146}, "y": {"datum": 0.0685}, "text": {"value": "Log-rank test p<0.001"}}}
 ]
},
{
 "width": 258, "height": 220,
 "title": {"text": "Non-Hispanic white", "dx": 60, "offset": 21},
 "encoding": {
  "x": {"type": "quantitative", "scale": {"domain": [-162, 3149], "nice": false, "zero": false}, "axis": {"values": [0,500,1000,1500,2000,2500,3000], "format": "d", "title": "Time to CHF or last follow-up (days)"}},
  "y": {"type": "quantitative", "scale": {"domain": [-0.0039, 0.0727], "nice": false, "zero": false}, "axis": {"values": [0,0.01,0.02,0.03,0.04,0.05,0.06,0.07], "format": ".2f", "title": "Cumulative Hazard of CHF", "titleFontSize": 11.5, "titleY": 94, "titlePadding": 1}}
 },
 "layer": [
  {"data": {"name": "curves"}, "transform": [{"filter": "datum.p == 'B'"}],
   "mark": {"type": "line", "interpolate": "step-after", "strokeWidth": 1.2, "point": {"shape": "M-1,0H1M0,-1V1", "filled": false, "size": 25, "strokeWidth": 1.1, "opacity": 1}},
   "encoding": {"x": {"field": "t"}, "y": {"field": "h"}, "color": {"field": "s", "type": "nominal", "scale": {"domain": ["q4","q3","q2","q1"], "range": ["#5b1f7c","#ee2024","#2e9e44","#283c96"]}, "legend": null}}},
  {"data": {"name": "labels"}, "transform": [{"filter": "datum.p == 'B'"}],
   "mark": {"type": "text", "align": "left", "baseline": "middle", "fontSize": 10, "fontWeight": "bold"}, "encoding": {"x": {"field": "t"}, "y": {"field": "h"}, "text": {"field": "txt"}}},
  {"data": {"name": "risk"}, "transform": [{"filter": "datum.p == 'B'"}],
   "mark": {"type": "text", "baseline": "middle", "fontSize": 8, "dx": 3}, "encoding": {"x": {"field": "t"}, "y": {"datum": -0.0194}, "text": {"field": "n"}}},
  {"data": {"values": [{"k": 1}]},
   "mark": {"type": "text", "align": "left", "baseline": "middle", "fontSize": 8}, "encoding": {"x": {"datum": -634}, "y": {"datum": -0.0194}, "text": {"value": "No. at risk"}}},
  {"data": {"values": [{"k": 1}]},
   "mark": {"type": "text", "align": "left", "baseline": "middle", "fontSize": 10, "fontWeight": "bold"}, "encoding": {"x": {"datum": 125}, "y": {"datum": 0.0703}, "text": {"value": "Log-rank test p<0.001"}}}
 ]
},
{
 "width": 258, "height": 226,
 "title": {"text": "African-American", "dx": 24, "offset": 10},
 "encoding": {
  "x": {"type": "quantitative", "scale": {"domain": [-165, 3165], "nice": false, "zero": false}, "axis": {"values": [0,500,1000,1500,2000,2500,3000], "format": "d", "title": "Time to CHF or last follow-up (days)"}},
  "y": {"type": "quantitative", "scale": {"domain": [-0.0075, 0.1276], "nice": false, "zero": false}, "axis": {"values": [0,0.02,0.04,0.06,0.08,0.1,0.12], "format": ".2f", "title": "Cumulative Hazard of CHF", "titlePadding": 3}}
 },
 "layer": [
  {"data": {"name": "curves"}, "transform": [{"filter": "datum.p == 'C'"}],
   "mark": {"type": "line", "interpolate": "step-after", "strokeWidth": 1.2, "point": {"shape": "M-1,0H1M0,-1V1", "filled": false, "size": 25, "strokeWidth": 1.1, "opacity": 1}},
   "encoding": {"x": {"field": "t"}, "y": {"field": "h"}, "color": {"field": "s", "type": "nominal", "scale": {"domain": ["q4","q3","q2","q1"], "range": ["#5b1f7c","#ee2024","#2e9e44","#283c96"]}, "legend": null}}},
  {"data": {"name": "labels"}, "transform": [{"filter": "datum.p == 'C'"}],
   "mark": {"type": "text", "align": "left", "baseline": "middle", "fontSize": 10, "fontWeight": "bold"}, "encoding": {"x": {"field": "t"}, "y": {"field": "h"}, "text": {"field": "txt"}}},
  {"data": {"name": "risk"}, "transform": [{"filter": "datum.p == 'C'"}],
   "mark": {"type": "text", "baseline": "middle", "fontSize": 8, "dx": 2}, "encoding": {"x": {"field": "t"}, "y": {"datum": -0.0318}, "text": {"field": "n"}}},
  {"data": {"values": [{"k": 1}]},
   "mark": {"type": "text", "align": "left", "baseline": "middle", "fontSize": 8}, "encoding": {"x": {"datum": -697}, "y": {"datum": -0.0318}, "text": {"value": "No. at risk"}}},
  {"data": {"values": [{"k": 1}]},
   "mark": {"type": "text", "align": "left", "baseline": "middle", "fontSize": 10, "fontWeight": "bold"}, "encoding": {"x": {"datum": 150}, "y": {"datum": 0.1161}, "text": {"value": "Log-rank test p<0.001"}}}
 ]
},
{
 "width": 258, "height": 226,
 "title": {"text": "Hispanic", "dx": 39, "offset": 13},
 "encoding": {
  "x": {"type": "quantitative", "scale": {"domain": [-160, 3172], "nice": false, "zero": false}, "axis": {"values": [0,500,1000,1500,2000,2500,3000], "format": "d", "title": "Time to CHF or last follow-up (days)"}},
  "y": {"type": "quantitative", "scale": {"domain": [-0.0053, 0.0847], "nice": false, "zero": false}, "axis": {"values": [0,0.01,0.02,0.03,0.04,0.05,0.06,0.07,0.08], "format": ".2f", "title": "Cumulative Hazard of CHF", "titlePadding": 2}}
 },
 "layer": [
  {"data": {"name": "curves"}, "transform": [{"filter": "datum.p == 'D'"}],
   "mark": {"type": "line", "interpolate": "step-after", "strokeWidth": 1.2, "point": {"shape": "M-1,0H1M0,-1V1", "filled": false, "size": 25, "strokeWidth": 1.1, "opacity": 1}},
   "encoding": {"x": {"field": "t"}, "y": {"field": "h"}, "color": {"field": "s", "type": "nominal", "scale": {"domain": ["q4","q3","q2","q1"], "range": ["#5b1f7c","#ee2024","#2e9e44","#283c96"]}, "legend": null}}},
  {"data": {"name": "labels"}, "transform": [{"filter": "datum.p == 'D'"}],
   "mark": {"type": "text", "align": "left", "baseline": "middle", "fontSize": 10, "fontWeight": "bold"}, "encoding": {"x": {"field": "t"}, "y": {"field": "h"}, "text": {"field": "txt"}}},
  {"data": {"name": "risk"}, "transform": [{"filter": "datum.p == 'D'"}],
   "mark": {"type": "text", "baseline": "middle", "fontSize": 8, "dx": 6}, "encoding": {"x": {"field": "t"}, "y": {"datum": -0.0205}, "text": {"field": "n"}}},
  {"data": {"values": [{"k": 1}]},
   "mark": {"type": "text", "align": "left", "baseline": "middle", "fontSize": 8}, "encoding": {"x": {"datum": -560}, "y": {"datum": -0.0205}, "text": {"value": "No. at risk"}}},
  {"data": {"values": [{"k": 1}]},
   "mark": {"type": "text", "align": "left", "baseline": "middle", "fontSize": 10}, "encoding": {"x": {"datum": 194}, "y": {"datum": 0.0816}, "text": {"value": "Log-rank test p<0.001"}}}
 ]
}
]
}
